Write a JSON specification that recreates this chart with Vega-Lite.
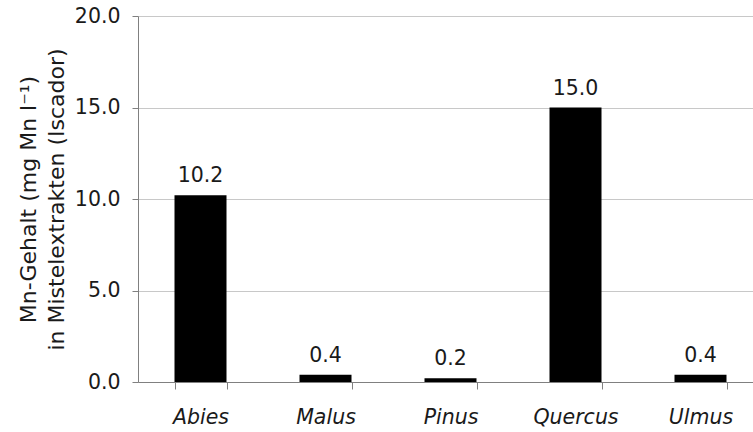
{
  "$schema": "https://vega.github.io/schema/vega-lite/v6.json",
  "width": 625,
  "height": 366,
  "autosize": {"type": "none"},
  "padding": {"left": 138, "top": 16, "right": 0, "bottom": 50},
  "background": "white",
  "config": {
    "view": {"stroke": null},
    "font": "DejaVu Sans",
    "axis": {"labelFont": "DejaVu Sans", "titleFont": "DejaVu Sans"}
  },
  "data": {
    "values": [
      {"species": "Abies", "mn": 10.2},
      {"species": "Malus", "mn": 0.4},
      {"species": "Pinus", "mn": 0.2},
      {"species": "Quercus", "mn": 15.0},
      {"species": "Ulmus", "mn": 0.4}
    ]
  },
  "encoding": {
    "x": {
      "field": "species",
      "type": "nominal",
      "sort": null,
      "scale": {"paddingInner": 0.584, "paddingOuter": 0.292},
      "axis": {
        "title": null,
        "labelAngle": 0,
        "labelFontStyle": "italic",
        "labelFontSize": 20.5,
        "labelColor": "#1a1a1a",
        "labelPadding": 18,
        "tickBand": "extent",
        "tickSize": 7,
        "tickColor": "#808080",
        "domainColor": "#808080",
        "grid": false
      }
    },
    "y": {
      "field": "mn",
      "type": "quantitative",
      "scale": {"domain": [0, 20]},
      "axis": {
        "values": [0, 5, 10, 15, 20],
        "format": ".1f",
        "title": ["Mn-Gehalt (mg Mn l⁻¹)", "in Mistelextrakten  (Iscador)"],
        "titleFontSize": 22,
        "titleFontWeight": "normal",
        "titleColor": "#1a1a1a",
        "titleLineHeight": 28,
        "titlePadding": 6,
        "labelFontSize": 20.5,
        "labelColor": "#1a1a1a",
        "labelPadding": 12,
        "tickSize": 6,
        "tickColor": "#808080",
        "domainColor": "#808080",
        "gridColor": "#c8c8c8"
      }
    }
  },
  "layer": [
    {"mark": {"type": "bar", "color": "black"}},
    {
      "mark": {"type": "text", "baseline": "alphabetic", "dy": -13, "fontSize": 20.5, "color": "#1a1a1a"},
      "encoding": {"text": {"field": "mn", "type": "quantitative", "format": ".1f"}}
    }
  ]
}
